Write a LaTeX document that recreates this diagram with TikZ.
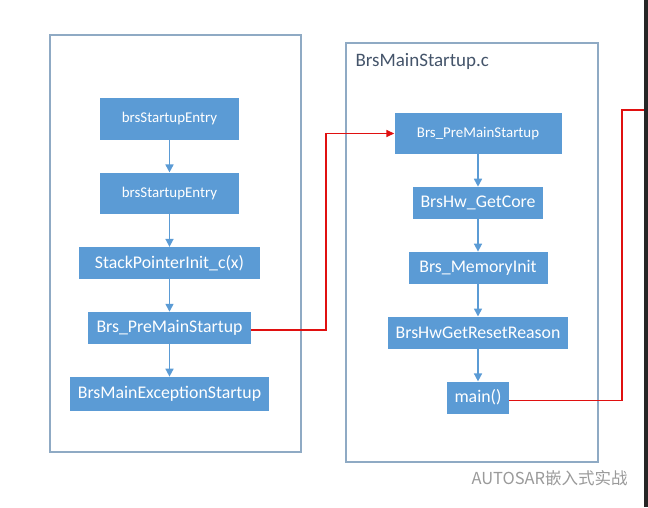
\documentclass[tikz,border=0pt]{standalone}
\usepackage{fontspec}
\setmainfont{Carlito}
\newfontfamily\cjk{Noto Sans CJK SC}
\usepackage{tikz}
\usetikzlibrary{
  arrows.meta,
  positioning
}
\definecolor{BoxBlue}{HTML}{5B9BD5}
\definecolor{FrameGrey}{HTML}{8FAAC4}
\definecolor{TitleSlate}{HTML}{44546A}
\definecolor{JumpRed}{HTML}{E01010}
\definecolor{MarkGrey}{HTML}{9A9A9A}
\tikzset{
  % Function box
  fn/.style={
    rectangle, fill=BoxBlue, text=white,
    inner sep=0pt, minimum height=32pt,
    align=center, font=\fontsize{17.8}{20}\selectfont
  },
  % Smaller function box
  fnsmall/.style={
    fn, minimum height=41.5pt,
    font=\fontsize{14.9}{16}\selectfont
  },
  % Source file frame
  frame/.style={draw=FrameGrey, line width=1.2pt},
  % Call arrow inside a file
  callarr/.style={
    -{Triangle[length=8pt,width=8pt]},
    line width=1.6pt, color=BoxBlue
  },
  % Jump between files
  jump/.style={line width=1.5pt, color=JumpRed},
  jumparr/.style={jump, -{Triangle[length=8pt,width=7pt]}}
}
\begin{document}
\begin{tikzpicture}[x=1pt, y=-1pt, node distance=32.5pt]
  \useasboundingbox (0,0) rectangle (648,507);

  % File frames
  \draw[frame] (50,35) rectangle (301,452);
  \draw[frame] (346,43) rectangle (598,462);
  \node[anchor=west, text=TitleSlate, font=\fontsize{19}{21}\selectfont] (title) at (352,61) {BrsMainStartup.c};

  % Startup file
  \node[fnsmall, minimum width=139pt] (entrya) at (169.5,119) {brsStartupEntry};
  \node[fnsmall, minimum width=139pt, below=of entrya] (entryb) {brsStartupEntry};
  \node[fn, minimum width=181pt, below=of entryb] (stack) {StackPointerInit\_c(x)};
  \node[fn, minimum width=163pt, below=of stack] (lpre) {Brs\_PreMainStartup};
  \node[fn, minimum width=199pt, minimum height=34pt, below=of lpre] (exc) {BrsMainExceptionStartup};

  % BrsMainStartup.c
  \node[fnsmall, minimum width=167pt, minimum height=41pt] (rpre) at (478,133.5) {Brs\_PreMainStartup};
  \node[fn, minimum width=130pt, below=of rpre] (core) {BrsHw\_GetCore};
  \node[fn, minimum width=139pt, below=of core] (mem) {Brs\_MemoryInit};
  \node[fn, minimum width=180pt, below=of mem] (reset) {BrsHwGetResetReason};
  \node[fn, minimum width=62pt, below=of reset] (rmain) {main()};

  % Calls
  \draw[callarr] (entrya) -- (entryb);
  \draw[callarr] (entryb) -- (stack);
  \draw[callarr] (stack) -- (lpre);
  \draw[callarr] (lpre) -- (exc);
  \draw[callarr] (rpre) -- (core);
  \draw[callarr] (core) -- (mem);
  \draw[callarr] (mem) -- (reset);
  \draw[callarr] (reset) -- (rmain);

  % Jumps
  \coordinate (exit) at (644,110);
  \draw[jumparr] ([yshift=-2pt]lpre.east) -- ++(75,0) |- (rpre.west);
  \draw[jump] ([yshift=-3pt]rmain.east) -- ++(113,0) |- (exit);

  % Edge strip and mark
  \fill[black!85] (644,0) rectangle (648,507);
  \node[anchor=west, text=MarkGrey, font=\cjk\fontsize{16.5}{18}\selectfont] (mark) at (468,478) {AUTOSAR嵌入式实战};

\end{tikzpicture}
\end{document}
